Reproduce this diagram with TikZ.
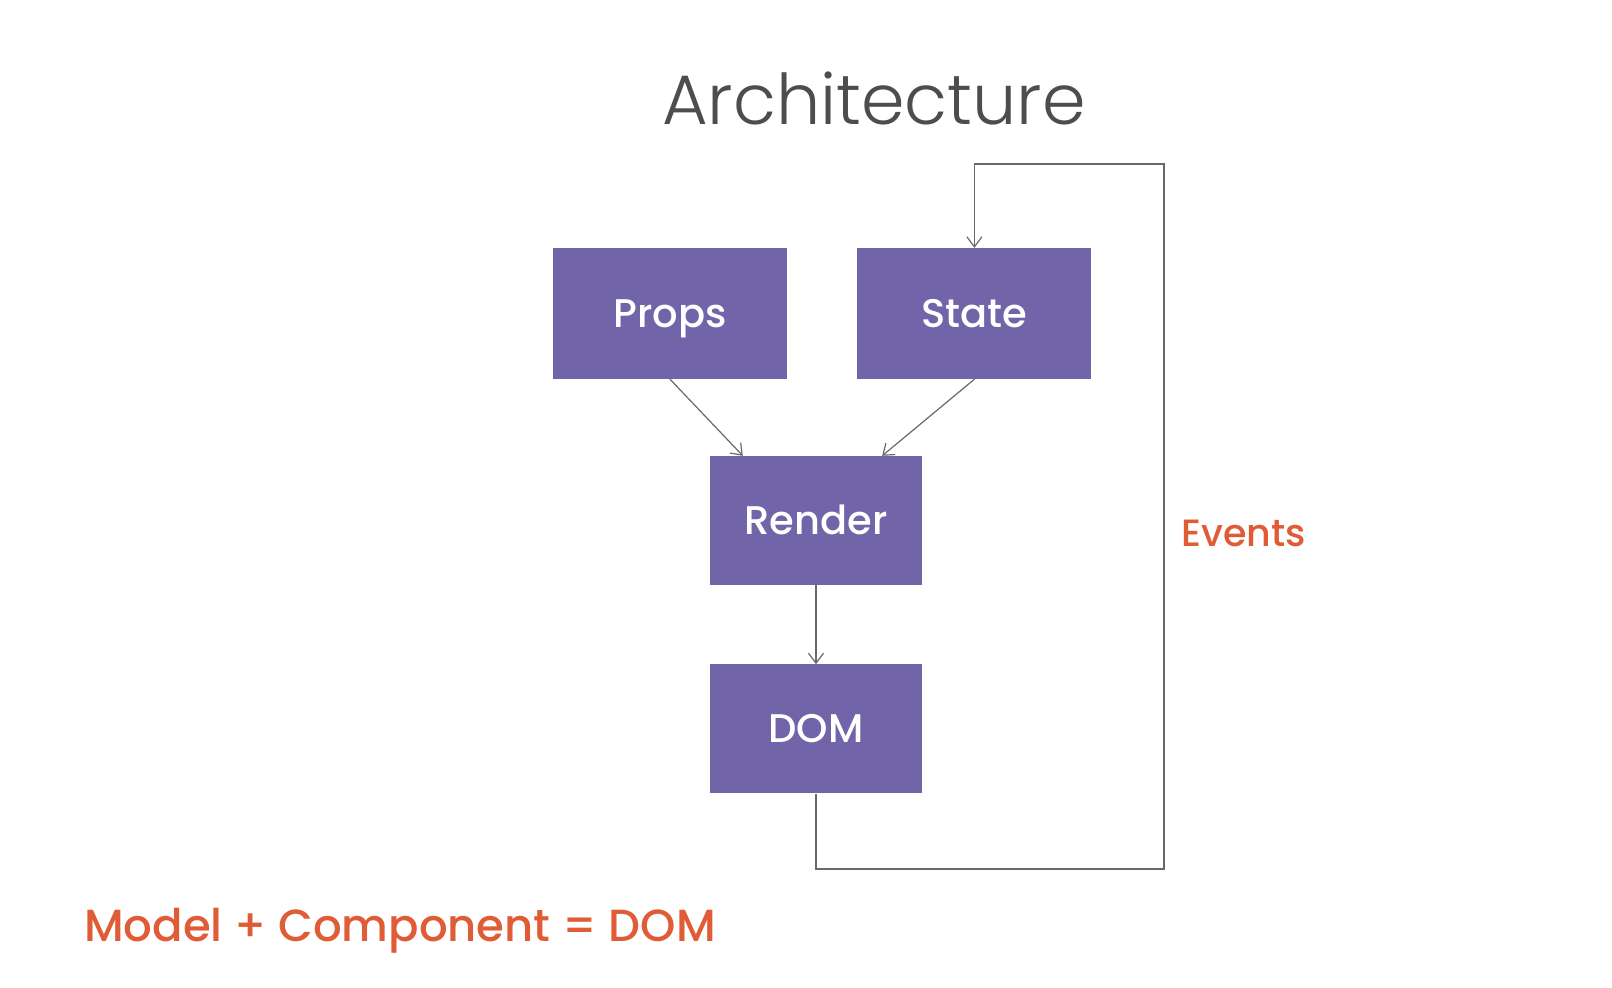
\documentclass[tikz,border=0pt]{standalone}
\usepackage{fontspec}
\usepackage{tikz}
\usetikzlibrary{positioning,arrows.meta}
\usepackage[dvipsnames]{xcolor}
\newfontfamily\archtitlefont{Poppins Light}
\newfontfamily\archboxfont{Poppins Medium}
\definecolor{archpurple}{RGB}{113,100,168}
\definecolor{archorange}{RGB}{224,92,54}
\definecolor{archline}{RGB}{105,105,105}
\definecolor{archgray}{RGB}{77,77,77}
\tikzset{
  archbox/.style={fill=archpurple,minimum width=234pt,minimum height=131pt,inner sep=0pt,
    text=white,font=\archboxfont\fontsize{40}{48}\selectfont,text height=28pt,text depth=0pt},
  archarrow/.style={draw=archline,line width=1.2pt,-{Straight Barb[length=10pt,width=15pt,line width=1.2pt]}},
  archlabel/.style={text=archorange,font=\archboxfont\fontsize{38}{46}\selectfont,inner sep=0pt}
}

\begin{document}
\begin{tikzpicture}[x=1pt,y=-1pt]
\useasboundingbox[fill=white] (0,0) rectangle (1612,988);
%the title
\node [anchor=base,inner sep=0pt,text=archgray,font=\archtitlefont\fontsize{70}{84}\selectfont] (title) at (874,124) {Architecture};
%the nodes
\node [archbox] (props) at (670,313.5) {Props};
\node [archbox,right=70pt of props] (state) {State};
\node [archbox,minimum width=212pt,minimum height=129pt] (render) at (816,520.5) {Render};
\node [archbox,minimum width=212pt,minimum height=129pt,below=79pt of render] (dom) {DOM};
\coordinate (loopLow) at (1164,869);
\coordinate (loopHigh) at (1164,164);
%the labels
\node [archlabel,anchor=base west] (events) at (1181,546) {Events};
\node [archlabel,anchor=base west,font=\archboxfont\fontsize{45}{54}\selectfont] (formula) at (84,941) {Model + Component = DOM};
%drawings of lines
\draw[archarrow] (props.south) -- ([xshift=33pt]render.north west);
\draw[archarrow] (state.south) -- ([xshift=-40pt]render.north east);
\draw[archarrow] (render.south) -- (dom.north);

\draw[archarrow] (dom.south) |- (loopLow) -- (loopHigh) -| (state.north);

\end{tikzpicture}
\end{document}
